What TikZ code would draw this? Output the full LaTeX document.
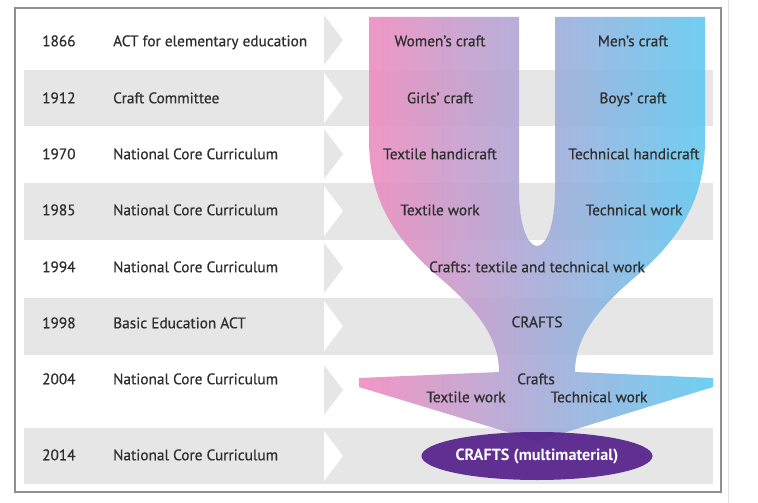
\documentclass[tikz,border=0pt]{standalone}
\usepackage{fontspec}
\setmainfont{PT Sans}
\newfontfamily\labfont{PT Sans}[FakeBold=0.5]
\usetikzlibrary{shapes.geometric}
\definecolor{bandgray}{HTML}{E6E6E6}
\definecolor{framegray}{HTML}{8F8F8F}
\definecolor{txtgray}{HTML}{2E2E2E}
\definecolor{fpink}{HTML}{F28BBE}
\definecolor{flav}{HTML}{B8ADDA}
\definecolor{fcyan}{HTML}{5ECBF2}
\definecolor{ellpurple}{HTML}{54208A}
\begin{document}
\begin{tikzpicture}[x=1bp,y=-1bp,
  txt/.style={text=txtgray, font=\labfont\fontsize{15.3bp}{17bp}\selectfont, inner sep=0pt, text height=10.5bp, text depth=0bp},
  yeartxt/.style={txt, anchor=west},
  desctxt/.style={txt, anchor=west},
  lab/.style={txt, anchor=center}]
\useasboundingbox (0,0) rectangle (758,503);
\fill[white] (0,0) rectangle (758,503);
% gray bands
\foreach \a/\b in {70/126,183/240,298/355,428/484}{
  \fill[bandgray] (24,\a) rectangle (713,\b);
}
% chevrons in white rows
\foreach \a in {15,129,243,365}{
  \fill[bandgray] (324,\a) -- (343,\a+25) -- (324,\a+50) -- cycle;
}
% chevrons in gray rows
\foreach \a in {73,186,301,431}{
  \fill[white] (324,\a) -- (343,\a+25) -- (324,\a+50) -- cycle;
}
% frame
\draw[framegray, line width=1.2bp] (15,8) rectangle (721,492);
\draw[black!12, line width=1bp] (728,0) -- (728,503);
% row texts
\node[yeartxt] (y1) at (42,41) {1866};
\node[desctxt] (d1) at (113,41) {ACT for elementary education};
\node[yeartxt] (y2) at (42,98) {1912};
\node[desctxt] (d2) at (113,98) {Craft Committee};
\node[yeartxt] (y3) at (42,154) {1970};
\node[desctxt] (d3) at (113,154) {National Core Curriculum};
\node[yeartxt] (y4) at (42,210) {1985};
\node[desctxt] (d4) at (113,210) {National Core Curriculum};
\node[yeartxt] (y5) at (42,267) {1994};
\node[desctxt] (d5) at (113,267) {National Core Curriculum};
\node[yeartxt] (y6) at (42,323) {1998};
\node[desctxt] (d6) at (113,323) {Basic Education ACT};
\node[yeartxt] (y7) at (42,379) {2004};
\node[desctxt] (d7) at (113,379) {National Core Curriculum};
\node[yeartxt] (y8) at (42,455) {2014};
\node[desctxt] (d8) at (113,455) {National Core Curriculum};
% funnel
\shade[left color=fpink, middle color=flav, right color=fcyan, fill opacity=0.9]
  (369,17) -- (519,17) -- (519,190)
  .. controls (519,226) and (528,246) .. (537,246)
  .. controls (546,246) and (555,226) .. (555,190)
  -- (555,17) -- (705,17) -- (705,140)
  .. controls (705,200) and (679,240) .. (634,278)
  .. controls (594,312) and (575,340) .. (575,372)
  -- (713,378) -- (713,387) -- (537,441) -- (359,387) -- (359,378)
  -- (499,372)
  .. controls (499,340) and (480,312) .. (440,278)
  .. controls (395,240) and (369,200) .. (369,140) -- cycle;
% ellipse
\node[ellipse, fill=ellpurple, fill opacity=0.92, text opacity=1, minimum width=231bp, minimum height=48bp, inner sep=0pt,
  text=white, font=\fontsize{16.2bp}{18bp}\selectfont\bfseries] (ell) at (537,456) {CRAFTS (multimaterial)};
% funnel labels
\node[lab] (l1a) at (440,41) {Women’s craft};
\node[lab] (l1b) at (633,41) {Men’s craft};
\node[lab] (l2a) at (440,98) {Girls’ craft};
\node[lab] (l2b) at (633,98) {Boys’ craft};
\node[lab] (l3a) at (440,154) {Textile handicraft};
\node[lab] (l3b) at (634,154) {Technical handicraft};
\node[lab] (l4a) at (440,210) {Textile work};
\node[lab] (l4b) at (634,210) {Technical work};
\node[lab] (l5) at (537,267) {Crafts: textile and technical work};
\node[lab] (l6) at (537,322) {CRAFTS};
\node[lab] (l7) at (536,379) {Crafts};
\node[lab] (l7a) at (466,397) {Textile work};
\node[lab] (l7b) at (599,397) {Technical work};
\end{tikzpicture}
\end{document}
